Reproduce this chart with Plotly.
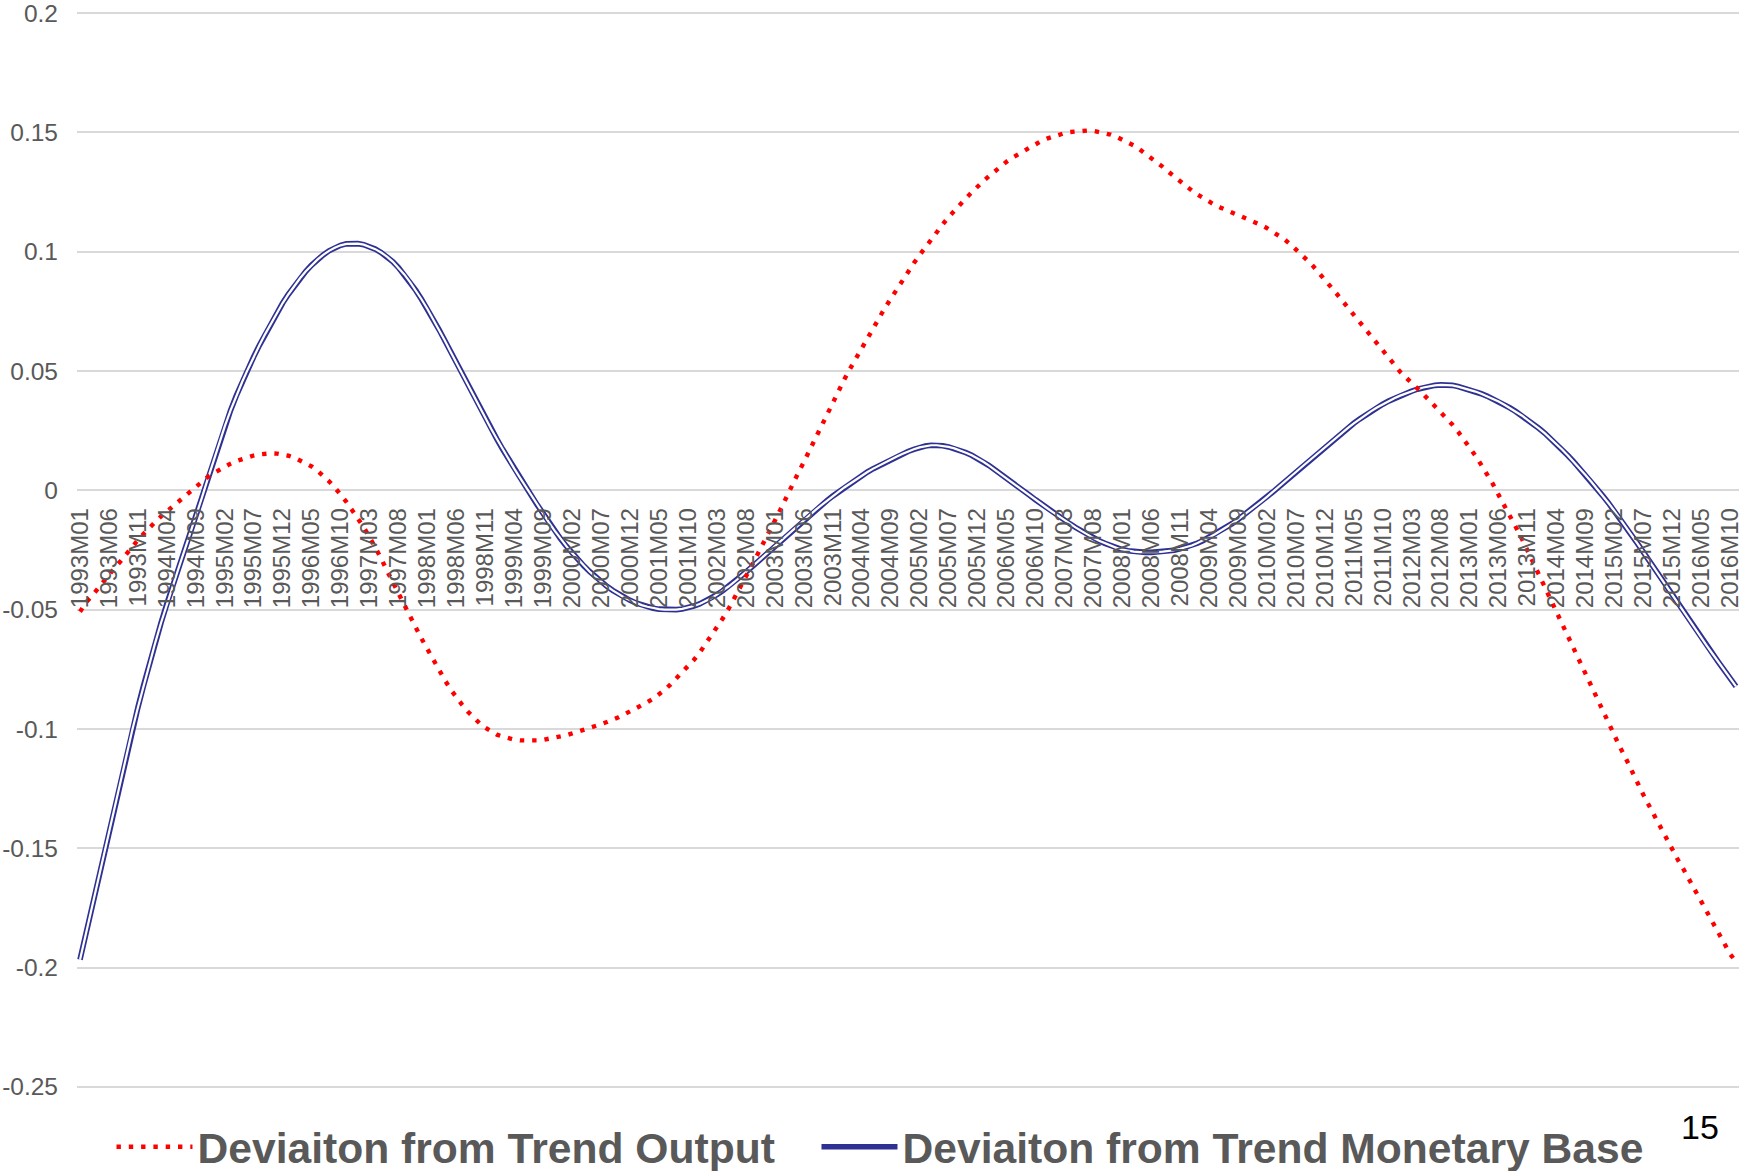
import plotly.graph_objects as go

# ---------------- data ----------------
YEARS = list(range(1993, 2017))
CATEGORIES = [f"{y}M{m:02d}" for y in YEARS for m in range(1, 13)][:287]  # 1993M01 .. 2016M11
TICK_LABELS = CATEGORIES[::5]

OUTPUT_DEV = [
    -0.0509, -0.0471, -0.0444, -0.0413, -0.0384, -0.0352, -0.0325, -0.0297, -0.0265, -0.0236, -0.0208, -0.0182,  # 1993
    -0.0160, -0.0132, -0.0109, -0.0088, -0.0065, -0.0044, -0.0023, -0.0003, 0.0016, 0.0036, 0.0055, 0.0071,  # 1994
    0.0086, 0.0100, 0.0112, 0.0123, 0.0132, 0.0140, 0.0146, 0.0151, 0.0154, 0.0155, 0.0154, 0.0150,  # 1995
    0.0145, 0.0137, 0.0126, 0.0114, 0.0100, 0.0082, 0.0062, 0.0038, 0.0012, -0.0017, -0.0048, -0.0083,  # 1996
    -0.0117, -0.0155, -0.0196, -0.0239, -0.0285, -0.0336, -0.0382, -0.0432, -0.0478, -0.0524, -0.0575, -0.0622,  # 1997
    -0.0667, -0.0710, -0.0752, -0.0795, -0.0834, -0.0869, -0.0899, -0.0928, -0.0954, -0.0976, -0.0995, -0.1011,  # 1998
    -0.1024, -0.1032, -0.1039, -0.1045, -0.1048, -0.1049, -0.1049, -0.1048, -0.1046, -0.1042, -0.1037, -0.1032,  # 1999
    -0.1026, -0.1019, -0.1012, -0.1005, -0.0998, -0.0989, -0.0980, -0.0971, -0.0962, -0.0951, -0.0939, -0.0927,  # 2000
    -0.0914, -0.0902, -0.0888, -0.0873, -0.0855, -0.0836, -0.0813, -0.0789, -0.0764, -0.0738, -0.0711, -0.0681,  # 2001
    -0.0646, -0.0612, -0.0576, -0.0537, -0.0497, -0.0454, -0.0407, -0.0361, -0.0316, -0.0269, -0.0224, -0.0177,  # 2002
    -0.0127, -0.0079, -0.0027, 0.0021, 0.0071, 0.0118, 0.0170, 0.0223, 0.0267, 0.0316, 0.0369, 0.0413,  # 2003
    0.0465, 0.0510, 0.0552, 0.0598, 0.0644, 0.0684, 0.0724, 0.0764, 0.0802, 0.0840, 0.0881, 0.0920,  # 2004
    0.0952, 0.0986, 0.1020, 0.1053, 0.1083, 0.1115, 0.1145, 0.1173, 0.1199, 0.1224, 0.1249, 0.1274,  # 2005
    0.1296, 0.1317, 0.1338, 0.1358, 0.1377, 0.1394, 0.1409, 0.1424, 0.1439, 0.1452, 0.1464, 0.1474,  # 2006
    0.1483, 0.1491, 0.1497, 0.1502, 0.1505, 0.1507, 0.1508, 0.1507, 0.1503, 0.1498, 0.1491, 0.1482,  # 2007
    0.1471, 0.1459, 0.1445, 0.1429, 0.1412, 0.1394, 0.1375, 0.1356, 0.1335, 0.1314, 0.1295, 0.1276,  # 2008
    0.1257, 0.1240, 0.1224, 0.1208, 0.1196, 0.1185, 0.1175, 0.1164, 0.1154, 0.1145, 0.1134, 0.1123,  # 2009
    0.1112, 0.1099, 0.1085, 0.1070, 0.1052, 0.1032, 0.1011, 0.0988, 0.0964, 0.0939, 0.0912, 0.0884,  # 2010
    0.0855, 0.0825, 0.0795, 0.0765, 0.0732, 0.0700, 0.0670, 0.0641, 0.0611, 0.0580, 0.0551, 0.0522,  # 2011
    0.0497, 0.0473, 0.0451, 0.0427, 0.0403, 0.0378, 0.0354, 0.0330, 0.0305, 0.0276, 0.0246, 0.0214,  # 2012
    0.0180, 0.0145, 0.0107, 0.0068, 0.0027, -0.0019, -0.0062, -0.0106, -0.0155, -0.0202, -0.0250, -0.0302,  # 2013
    -0.0355, -0.0406, -0.0458, -0.0512, -0.0562, -0.0614, -0.0667, -0.0719, -0.0772, -0.0825, -0.0881, -0.0930,  # 2014
    -0.0982, -0.1027, -0.1078, -0.1125, -0.1177, -0.1227, -0.1276, -0.1322, -0.1368, -0.1417, -0.1460, -0.1506,  # 2015
    -0.1550, -0.1591, -0.1636, -0.1680, -0.1722, -0.1767, -0.1811, -0.1857, -0.1900, -0.1944, -0.1975,  # 2016
]

MONETARY_BASE_DEV = [
    -0.1967, -0.1859, -0.1751, -0.1643, -0.1536, -0.1429, -0.1322, -0.1216, -0.1111, -0.1008, -0.0910, -0.0816,  # 1993
    -0.0725, -0.0638, -0.0555, -0.0476, -0.0402, -0.0328, -0.0255, -0.0183, -0.0111, -0.0035, 0.0043, 0.0121,  # 1994
    0.0197, 0.0268, 0.0335, 0.0397, 0.0454, 0.0508, 0.0560, 0.0609, 0.0656, 0.0701, 0.0744, 0.0785,  # 1995
    0.0822, 0.0857, 0.0889, 0.0918, 0.0944, 0.0967, 0.0987, 0.1004, 0.1017, 0.1027, 0.1033, 0.1035,  # 1996
    0.1034, 0.1030, 0.1022, 0.1011, 0.0997, 0.0980, 0.0959, 0.0934, 0.0905, 0.0873, 0.0838, 0.0800,  # 1997
    0.0760, 0.0718, 0.0674, 0.0628, 0.0581, 0.0534, 0.0487, 0.0440, 0.0393, 0.0347, 0.0302, 0.0258,  # 1998
    0.0215, 0.0172, 0.0131, 0.0091, 0.0052, 0.0014, -0.0024, -0.0062, -0.0099, -0.0135, -0.0170, -0.0203,  # 1999
    -0.0234, -0.0263, -0.0290, -0.0316, -0.0340, -0.0362, -0.0383, -0.0402, -0.0419, -0.0435, -0.0449, -0.0461,  # 2000
    -0.0472, -0.0481, -0.0488, -0.0494, -0.0498, -0.0500, -0.0501, -0.0500, -0.0497, -0.0492, -0.0485, -0.0476,  # 2001
    -0.0465, -0.0452, -0.0437, -0.0421, -0.0403, -0.0384, -0.0364, -0.0343, -0.0322, -0.0300, -0.0278, -0.0256,  # 2002
    -0.0234, -0.0212, -0.0190, -0.0168, -0.0146, -0.0125, -0.0104, -0.0083, -0.0063, -0.0043, -0.0024, -0.0006,  # 2003
    0.0012, 0.0029, 0.0046, 0.0062, 0.0077, 0.0091, 0.0104, 0.0117, 0.0129, 0.0141, 0.0152, 0.0163,  # 2004
    0.0172, 0.0180, 0.0186, 0.0189, 0.0189, 0.0187, 0.0182, 0.0176, 0.0168, 0.0158, 0.0147, 0.0134,  # 2005
    0.0120, 0.0104, 0.0086, 0.0067, 0.0049, 0.0031, 0.0014, -0.0003, -0.0021, -0.0039, -0.0057, -0.0074,  # 2006
    -0.0091, -0.0108, -0.0125, -0.0141, -0.0156, -0.0171, -0.0186, -0.0199, -0.0211, -0.0222, -0.0232, -0.0241,  # 2007
    -0.0248, -0.0253, -0.0257, -0.0259, -0.0260, -0.0260, -0.0259, -0.0257, -0.0255, -0.0251, -0.0245, -0.0239,  # 2008
    -0.0231, -0.0221, -0.0210, -0.0197, -0.0184, -0.0170, -0.0155, -0.0139, -0.0122, -0.0104, -0.0086, -0.0067,  # 2009
    -0.0047, -0.0027, -0.0007, 0.0014, 0.0035, 0.0056, 0.0077, 0.0098, 0.0119, 0.0140, 0.0160, 0.0180,  # 2010
    0.0200, 0.0221, 0.0242, 0.0262, 0.0281, 0.0299, 0.0316, 0.0332, 0.0347, 0.0361, 0.0374, 0.0386,  # 2011
    0.0397, 0.0407, 0.0416, 0.0424, 0.0431, 0.0436, 0.0440, 0.0442, 0.0442, 0.0440, 0.0435, 0.0429,  # 2012
    0.0422, 0.0414, 0.0405, 0.0395, 0.0384, 0.0372, 0.0359, 0.0345, 0.0330, 0.0314, 0.0295, 0.0278,  # 2013
    0.0259, 0.0239, 0.0217, 0.0194, 0.0170, 0.0145, 0.0119, 0.0092, 0.0064, 0.0036, 0.0007, -0.0023,  # 2014
    -0.0054, -0.0086, -0.0119, -0.0153, -0.0188, -0.0223, -0.0259, -0.0295, -0.0331, -0.0368, -0.0405, -0.0442,  # 2015
    -0.0478, -0.0514, -0.0549, -0.0584, -0.0619, -0.0653, -0.0687, -0.0721, -0.0755, -0.0789, -0.0822,  # 2016
]

Y_TICK_VALUES = [0.2, 0.15, 0.1, 0.05, 0.0, -0.05, -0.1, -0.15, -0.2, -0.25]
Y_TICK_TEXT = ["0.2", "0.15", "0.1", "0.05", "0", "-0.05", "-0.1", "-0.15", "-0.2", "-0.25"]

SERIES_NAMES = ["Deviaiton from Trend Output", "Deviaiton from Trend Monetary Base"]
PAGE_NUMBER = "15"

assert len(OUTPUT_DEV) == len(CATEGORIES) == len(MONETARY_BASE_DEV)

# ---------------- style ----------------
FONT = "Liberation Sans, Arial, sans-serif"
GREY_TEXT = "#595959"
RED = "#FF0000"
NAVY = "#2E3192"
# a hair of padding so the 0.2 and -0.25 gridlines are drawn inside the range
Y_MIN, Y_MAX = -0.2505, 0.2005

fig = go.Figure()

# Monetary base: double line (navy outer stroke + white inner stroke)
fig.add_trace(go.Scatter(
    x=CATEGORIES, y=MONETARY_BASE_DEV, mode="lines",
    name=SERIES_NAMES[1], legendrank=2, legendgroup="mb",
    line=dict(color=NAVY, width=5.6),
))
fig.add_trace(go.Scatter(
    x=CATEGORIES, y=MONETARY_BASE_DEV, mode="lines",
    showlegend=False, legendgroup="mb", hoverinfo="skip",
    line=dict(color="white", width=2.2),
))
# Output: red dotted line
fig.add_trace(go.Scatter(
    x=CATEGORIES, y=OUTPUT_DEV, mode="lines",
    name=SERIES_NAMES[0], legendrank=1, legendwidth=614,
    line=dict(color=RED, width=4.4, dash="4.4px,7.9px"),
))

fig.update_layout(
    width=1742, height=1171,
    paper_bgcolor="white", plot_bgcolor="white",
    margin=dict(l=77, r=3, t=12, b=83, autoexpand=False),
    font=dict(family=FONT, color=GREY_TEXT),
    showlegend=True,
    legend=dict(
        orientation="h",
        xref="container", yref="container",
        x=0.064, xanchor="left",
        y=0.0205, yanchor="middle",
        font=dict(family=FONT, size=42.6, color=GREY_TEXT, weight="bold"),
        itemwidth=76,
        bgcolor="rgba(0,0,0,0)",
        traceorder="normal",
    ),
    xaxis=dict(
        type="category", automargin=False,
        range=[-0.52, len(CATEGORIES) - 1 + 0.52],
        tickmode="array", tickvals=TICK_LABELS, ticktext=TICK_LABELS,
        tickangle=-90,
        anchor="free", position=(0 - Y_MIN) / (Y_MAX - Y_MIN),
        showgrid=False, showline=False, zeroline=False,
        ticks="", ticklabelstandoff=12, ticklabeloverflow="allow",
        tickfont=dict(family=FONT, size=24, color=GREY_TEXT),
    ),
    yaxis=dict(
        automargin=False,
        range=[Y_MIN, Y_MAX],
        tickmode="array", tickvals=Y_TICK_VALUES, ticktext=Y_TICK_TEXT,
        showgrid=True, gridcolor="#D9D9D9", gridwidth=1.5,
        zeroline=False, showline=False,
        ticks="", ticklabelstandoff=18, ticklabeloverflow="allow",
        tickfont=dict(family=FONT, size=24.5, color=GREY_TEXT),
    ),
    annotations=[dict(
        text=PAGE_NUMBER, xref="paper", yref="paper",
        x=0.9765, y=-0.036, xanchor="center", yanchor="middle",
        showarrow=False, font=dict(family=FONT, size=34, color="#000000"),
    )],
)

# remove the browser's default 8px page margin so the figure sits at the window origin
fig.write_html(
    "out.html",
    config={"displayModeBar": False},
    post_script="document.body.style.margin='0px';",
)
